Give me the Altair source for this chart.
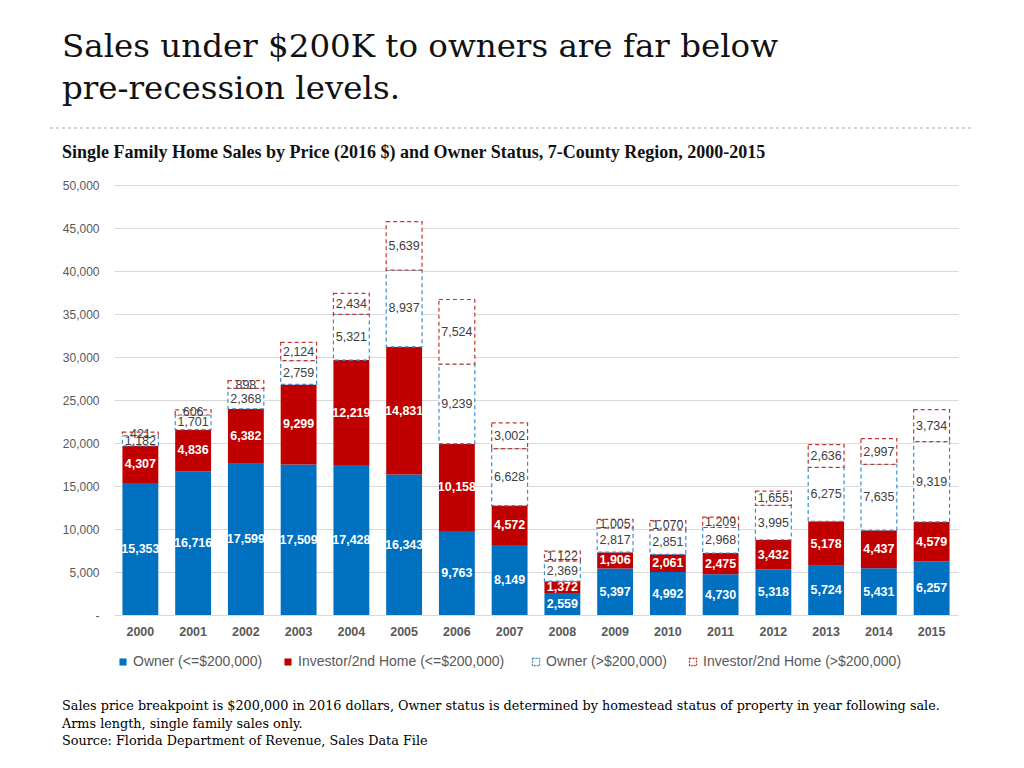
import altair as alt
import pandas as pd

YEARS = [str(y) for y in range(2000, 2016)]
OWNER_LOW = [15353, 16716, 17599, 17509, 17428, 16343, 9763, 8149, 2559, 5397, 4992, 4730, 5318, 5724, 5431, 6257]
INVESTOR_LOW = [4307, 4836, 6382, 9299, 12219, 14831, 10158, 4572, 1372, 1906, 2061, 2475, 3432, 5178, 4437, 4579]
OWNER_HIGH = [1182, 1701, 2368, 2759, 5321, 8937, 9239, 6628, 2369, 2817, 2851, 2968, 3995, 6275, 7635, 9319]
INVESTOR_HIGH = [421, 606, 898, 2124, 2434, 5639, 7524, 3002, 1122, 1005, 1070, 1209, 1655, 2636, 2997, 3734]

SERIES = ["Owner (<=$200,000)", "Investor/2nd Home (<=$200,000)",
          "Owner (>$200,000)", "Investor/2nd Home (>$200,000)"]
SOLID_COLORS = ["#0070c0", "#c00000"]
DASH_COLORS = ["#3a8fd0", "#c0392b"]

TITLE_LINES = ["Sales under $200K to owners are far below", "pre-recession levels."]
SUBTITLE = "Single Family Home Sales by Price (2016 $) and Owner Status, 7-County Region, 2000-2015"
NOTES = [
    "Sales price breakpoint is $200,000 in 2016 dollars, Owner status is determined by homestead status of property in year following sale.",
    "Arms length, single family sales only.",
    "Source: Florida Department of Revenue, Sales Data File",
]

rows = []
for i, y in enumerate(YEARS):
    for k, vals in enumerate([OWNER_LOW, INVESTOR_LOW, OWNER_HIGH, INVESTOR_HIGH]):
        rows.append({"year": y, "series": SERIES[k], "order": k + 1, "value": vals[i]})
df = pd.DataFrame(rows)

xenc = alt.X("year:N", title=None,
             scale=alt.Scale(paddingInner=0.32, paddingOuter=0.16),
             axis=alt.Axis(labelAngle=0, labelFontWeight="bold", labelFontSize=12.5,
                           labelColor="#595959", labelFont="Liberation Sans",
                           domain=False, ticks=False, labelPadding=10))
yenc = alt.Y("y0:Q", title=None, scale=alt.Scale(domain=[0, 50000], nice=False),
             axis=alt.Axis(values=list(range(0, 50001, 5000)),
                           labelExpr="datum.value == 0 ? '-' : format(datum.value, ',')",
                           grid=True, gridColor="#d9d9d9", domain=False, ticks=False,
                           labelPadding=15, labelFontSize=12, labelColor="#595959",
                           labelFont="Liberation Sans"))

base = alt.Chart(df).transform_stack(
    stack="value", groupby=["year"], as_=["y0", "y1"],
    sort=[alt.SortField("order", order="ascending")]
).transform_calculate(mid="(datum.y0 + datum.y1) / 2")

legend_common = dict(orient="none", legendY=470, direction="horizontal", title=None,
                     symbolType="square", symbolSize=50, labelFontSize=14,
                     labelColor="#595959", labelFont="Liberation Sans",
                     columnPadding=18, labelOffset=3, labelLimit=0)

solid = base.transform_filter(alt.datum.order <= 2).mark_bar().encode(
    x=xenc, y=yenc, y2="y1:Q",
    fill=alt.Fill("series:N", scale=alt.Scale(domain=SERIES[:2], range=SOLID_COLORS),
                  legend=alt.Legend(legendX=2, symbolStrokeWidth=0, **legend_common)),
)

dashed = base.transform_filter(alt.datum.order >= 3).mark_bar(
    fill="white", strokeDash=[4, 3], strokeWidth=1.2
).encode(
    x=xenc, y=yenc, y2="y1:Q",
    stroke=alt.Stroke("series:N", scale=alt.Scale(domain=SERIES[2:], range=DASH_COLORS),
                      legend=alt.Legend(legendX=415, symbolDash=[2, 1], symbolStrokeWidth=1.2,
                                        symbolFillColor="white", **legend_common)),
)

solid_text = base.transform_filter(alt.datum.order <= 2).mark_text(
    color="white", fontWeight="bold", fontSize=12.5, font="Liberation Sans"
).encode(x=alt.X("year:N"), y=alt.Y("mid:Q"), text=alt.Text("value:Q", format=","))

dashed_text = base.transform_filter(alt.datum.order >= 3).mark_text(
    color="#404040", fontSize=12.5, font="Liberation Sans"
).encode(x=alt.X("year:N"), y=alt.Y("mid:Q"), text=alt.Text("value:Q", format=","))


def label(text, x, y, size, font, weight="normal", color="black"):
    return alt.Chart(pd.DataFrame({"t": [text]})).mark_text(
        align="left", baseline="alphabetic", fontSize=size, font=font,
        fontWeight=weight, color=color
    ).encode(x=alt.value(x), y=alt.value(y), text="t:N")


title1 = label(TITLE_LINES[0], -52, -128, 32.5, "DejaVu Serif", color="#111111")
title2 = label(TITLE_LINES[1], -52, -86, 32.5, "DejaVu Serif", color="#111111")
sub = label(SUBTITLE, -52, -27, 18, "Liberation Serif", weight="bold", color="#111111")
notes = [label(t, -52, 525 + 17.5 * i, 12.8, "DejaVu Serif", color="#000000") for i, t in enumerate(NOTES)]

sep = alt.Chart(pd.DataFrame({"a": [0]})).mark_rule(
    color="#c8c8c8", strokeDash=[3, 3], strokeWidth=1.5
).encode(x=alt.value(-64), x2=alt.value(858), y=alt.value(-57))

chart = alt.layer(
    solid, dashed, solid_text, dashed_text, title1, title2, sub, sep, *notes
).properties(
    width=844, height=430,
    autosize=alt.AutoSizeParams(type="none"),
    padding={"left": 106, "top": 177, "right": 58, "bottom": 145},
).resolve_scale(fill="independent", stroke="independent").configure_view(stroke=None)

chart.save("out.html", embed_options={"renderer": "svg", "actions": False})
